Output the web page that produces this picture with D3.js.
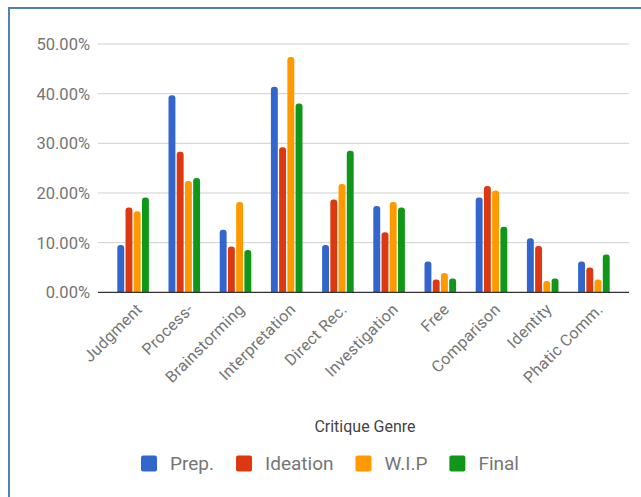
<!DOCTYPE html>
<html>
<head>
<meta charset="utf-8">
<script src="https://cdn.jsdelivr.net/npm/d3@7"></script>
<style>
  html, body { margin: 0; padding: 0; background: #fff; }
  svg { display: block; font-family: Roboto, "Noto Sans", sans-serif; }
</style>
</head>
<body>
<svg id="chart" width="641" height="497"></svg>
<script>
const categories = ["Judgment", "Process-", "Brainstorming", "Interpretation", "Direct Rec.",
  "Investigation", "Free", "Comparison", "Identity", "Phatic Comm."];
const seriesNames = ["Prep.", "Ideation", "W.I.P", "Final"];
const seriesColors = ["#3366cc", "#dc3912", "#ff9900", "#109618"];

const prep = [0.095, 0.397, 0.126, 0.414, 0.095, 0.174, 0.062, 0.191, 0.109, 0.062];
const ideation = [0.171, 0.283, 0.092, 0.292, 0.187, 0.121, 0.026, 0.214, 0.093, 0.050];
const wip = [0.163, 0.224, 0.182, 0.474, 0.218, 0.182, 0.039, 0.205, 0.023, 0.026];
const final = [0.191, 0.230, 0.085, 0.380, 0.285, 0.171, 0.028, 0.132, 0.028, 0.076];
const seriesValues = [prep, ideation, wip, final];

const yTicks = [0, 0.1, 0.2, 0.3, 0.4, 0.5];

const svg = d3.select("#chart");
const plot = { left: 98, right: 629, top: 44, bottom: 292.3 };

// frame edges (top + left)
svg.append("line").attr("x1", 8).attr("x2", 641).attr("y1", 8).attr("y2", 8)
  .attr("stroke", "#4f81bd").attr("stroke-width", 2);
svg.append("line").attr("x1", 9).attr("x2", 9).attr("y1", 7).attr("y2", 497)
  .attr("stroke", "#4f81bd").attr("stroke-width", 2);

const y = d3.scaleLinear().domain([0, 0.5]).range([plot.bottom, plot.top]);
const x = d3.scaleBand().domain(categories).range([plot.left, plot.right])
  .paddingInner(0.383).paddingOuter(0.377);
const xs = d3.scaleBand().domain(seriesNames).range([0, x.bandwidth()]).paddingInner(0.16);

// gridlines + y labels
const grid = svg.append("g");
yTicks.forEach(t => {
  if (t > 0) {
    grid.append("line").attr("x1", plot.left).attr("x2", plot.right)
      .attr("y1", y(t)).attr("y2", y(t)).attr("stroke", "#d0d0d0").attr("stroke-width", 1);
  }
  grid.append("text").attr("x", 90).attr("y", y(t)).attr("dy", "0.36em")
    .attr("text-anchor", "end").attr("font-size", 16.5).attr("fill", "#757575")
    .text(d3.format(".2%")(t));
});

// bars with rounded tops
const r = 3;
function barPath(x0, w, yTop, yBase) {
  const h = yBase - yTop;
  const rr = Math.min(r, h, w / 2);
  return `M${x0},${yBase}V${yTop + rr}Q${x0},${yTop} ${x0 + rr},${yTop}` +
    `H${x0 + w - rr}Q${x0 + w},${yTop} ${x0 + w},${yTop + rr}V${yBase}Z`;
}
const bars = svg.append("g");
categories.forEach((c, i) => {
  seriesNames.forEach((s, j) => {
    const v = seriesValues[j][i];
    bars.append("path")
      .attr("d", barPath(x(c) + xs(s), xs.bandwidth(), y(v), y(0)))
      .attr("fill", seriesColors[j]);
  });
});

// baseline
svg.append("line").attr("x1", plot.left).attr("x2", plot.right)
  .attr("y1", y(0)).attr("y2", y(0)).attr("stroke", "#333").attr("stroke-width", 1.3);

// x labels
const xl = svg.append("g");
categories.forEach(c => {
  const cx = x(c) + x.bandwidth() / 2;
  xl.append("text")
    .attr("transform", `translate(${cx + 10},${plot.bottom + 18}) rotate(-45)`)
    .attr("text-anchor", "end").attr("font-size", 16).attr("fill", "#757575")
    .attr("letter-spacing", 0.3)
    .text(c);
});

// axis title
svg.append("text").attr("x", 365).attr("y", 432).attr("text-anchor", "middle")
  .attr("font-size", 16).attr("fill", "#444").text("Critique Genre");

// legend
const legend = svg.append("g");
let lx = 141;
seriesNames.forEach((s, j) => {
  legend.append("rect").attr("x", lx).attr("y", 455.5).attr("width", 16).attr("height", 16)
    .attr("rx", 2).attr("fill", seriesColors[j]);
  const t = legend.append("text").attr("x", lx + 29).attr("y", 463.5).attr("dy", "0.36em")
    .attr("font-size", 19).attr("fill", "#757575").text(s);
  lx += 29 + t.node().getComputedTextLength() + 22;
});
</script>
</body>
</html>
